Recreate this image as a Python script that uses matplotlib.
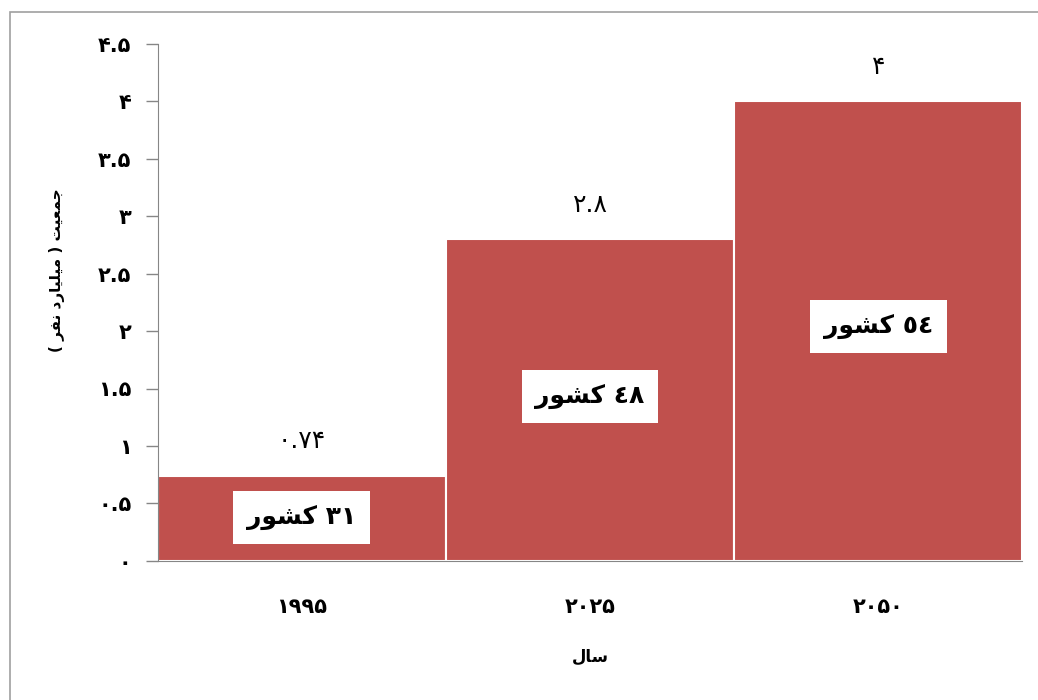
import matplotlib.pyplot as plt
from matplotlib.patches import Rectangle

# Persian text is written in presentation forms, in visual (left-to-right) order,
# since matplotlib does no Arabic shaping / bidi on its own
years = ['\u06F1\u06F9\u06F9\u06F5', '\u06F2\u06F0\u06F2\u06F5', '\u06F2\u06F0\u06F5\u06F0']
population = [0.74, 2.8, 4.0]
value_labels = ['\u06F0.\u06F7\u06F4', '\u06F2.\u06F8', '\u06F4']
country_labels = [
    '\uFEAD\uFEEE\uFEB8\uFB90 \u06F3\u06F1',
    '\uFEAD\uFEEE\uFEB8\uFB90 \u0664\u06F8',
    '\uFEAD\uFEEE\uFEB8\uFB90 \u0665\u0664',
]
y_ticks = [0, 0.5, 1, 1.5, 2, 2.5, 3, 3.5, 4, 4.5]
y_ticklabels = ['\u06F0', '\u06F0.\u06F5', '\u06F1', '\u06F1.\u06F5', '\u06F2', '\u06F2.\u06F5',
                '\u06F3', '\u06F3.\u06F5', '\u06F4', '\u06F4.\u06F5']
x_title = '\uFEDD\uFE8E\uFEB3'
y_title = ('( \uFEAE\uFED4\uFEE7 \uFEA9\uFEAD\uFE8E\uFBFF\uFEE0\uFBFF\uFEE3 ) '
           '\uFE96\uFBFF\uFECC\uFEE4\uFE9F')

plt.rcParams['font.family'] = ['DejaVu Sans']

fig = plt.figure(figsize=(10.38, 7), dpi=100)
ax = fig.add_axes([0.152, 0.199, 0.833, 0.738])

# outer frame of the chart area
fig.patches.append(Rectangle((0.0096, -0.1), 1.2, 1.083, transform=fig.transFigure,
                             fill=False, edgecolor='#A0A0A0', linewidth=1.2))

x = range(len(years))
ax.bar(x, population, width=1.0, color='#C0504D', edgecolor='white', linewidth=1.5)

for i, v in enumerate(population):
    ax.annotate(value_labels[i], (i, v), xytext=(0, 25), textcoords='offset points',
                ha='center', va='center', fontsize=18)
    ax.text(i, v * 0.51, country_labels[i], ha='center', va='center',
            fontsize=18, fontweight='bold',
            bbox=dict(boxstyle='square,pad=0.55', facecolor='white', edgecolor='none'))

ax.set_xlim(-0.5, 2.5)
ax.set_ylim(0, 4.5)
ax.set_yticks(y_ticks)
ax.set_yticklabels(y_ticklabels, fontsize=15, fontweight='bold')
ax.set_xticks(list(x))
ax.set_xticklabels(years, fontsize=15, fontweight='bold')
ax.tick_params(axis='y', length=9, width=1, color='#868686', pad=10)
ax.tick_params(axis='x', length=0, pad=26)

for s in ['top', 'right']:
    ax.spines[s].set_visible(False)
for s in ['left', 'bottom']:
    ax.spines[s].set_color('#868686')

ax.set_xlabel(x_title, fontsize=12, fontweight='bold', labelpad=22)
ax.set_ylabel(y_title, fontsize=11, fontweight='bold', labelpad=24)
ax.yaxis.label.set_y(0.563)

fig.savefig('out.png', dpi=100)
